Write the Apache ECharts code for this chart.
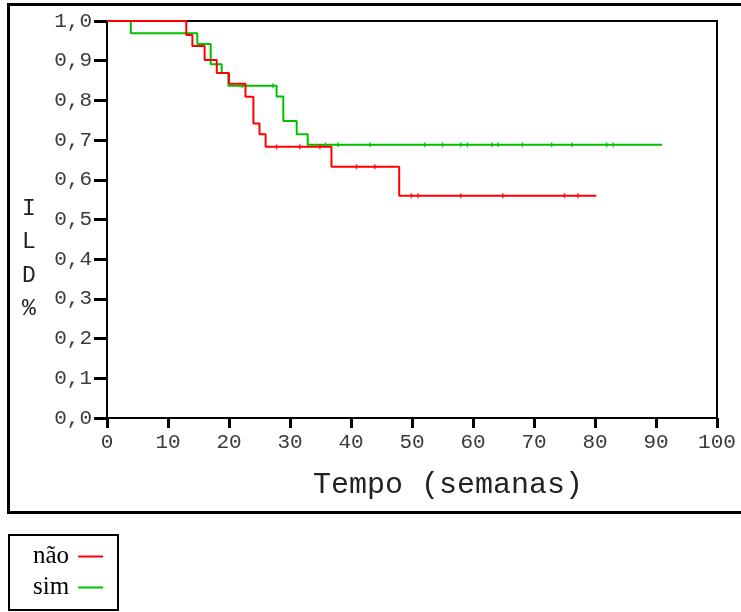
<!DOCTYPE html>
<html>
<head>
<meta charset="utf-8">
<script src="https://cdn.jsdelivr.net/npm/echarts@6/dist/echarts.min.js"></script>
<style>html,body{margin:0;padding:0;background:#fff}#c{width:741px;height:612px}</style>
</head>
<body>
<div id="c"></div>
<script>
// Kaplan-Meier style step curves (time in weeks, ILD proportion)
var naoTimes  = [0, 13, 14, 16, 18, 20, 22.7, 24, 25, 26, 36.8, 47.9, 80.2];
var naoValues = [1, 0.965, 0.937, 0.902, 0.869, 0.842, 0.809, 0.742, 0.715, 0.683, 0.633, 0.560, 0.560];
var simTimes  = [0, 3.9, 14.8, 17, 18.8, 19.9, 27.8, 28.9, 31.1, 32.9, 91];
var simValues = [1, 0.969, 0.942, 0.891, 0.869, 0.837, 0.810, 0.748, 0.715, 0.688, 0.688];
// censoring marks
var naoCensorTimes  = [27.8, 31.6, 34.9, 40.9, 43.9, 49.9, 51, 58, 64.9, 75, 77.2];
var naoCensorValues = [0.683, 0.683, 0.683, 0.633, 0.633, 0.560, 0.560, 0.560, 0.560, 0.560, 0.560];
var simCensorTimes  = [22.2, 27.2, 35.8, 37.9, 43.1, 52.1, 55, 58, 59.1, 63.1, 64.1, 68.1, 72.9, 76.2, 81.9, 83];
var simCensorValues = [0.837, 0.837, 0.688, 0.688, 0.688, 0.688, 0.688, 0.688, 0.688, 0.688, 0.688, 0.688, 0.688, 0.688, 0.688, 0.688];
var xTickLabels = ['0','10','20','30','40','50','60','70','80','90','100'];
var yTickLabels = ['0,0','0,1','0,2','0,3','0,4','0,5','0,6','0,7','0,8','0,9','1,0'];
var seriesNames = ['não', 'sim'];
var xTitle = 'Tempo (semanas)';
var yTitle = ['I', 'L', 'D', '%'];

function zip(a, b) { return a.map(function (v, i) { return [v, b[i]]; }); }

var RED = '#ff0000', GREEN = '#00c000';
var mono = 'Liberation Mono';
var chart = echarts.init(document.getElementById('c'), null, {renderer: 'canvas'});
chart.setOption({
  animation: false,
  backgroundColor: '#fff',
  grid: {left: 107, top: 21, right: 24, bottom: 194, show: true, borderColor: '#000', borderWidth: 2, containLabel: false},
  xAxis: {
    type: 'value', min: 0, max: 100, interval: 10,
    axisLine: {show: true, lineStyle: {color: '#000', width: 2}},
    axisTick: {show: true, length: 10, lineStyle: {color: '#000', width: 3}},
    axisLabel: {margin: 14, fontFamily: mono, fontSize: 21, color: '#3a3a3a',
      formatter: function (v) { return xTickLabels[Math.round(v / 10)]; }},
    splitLine: {show: false}
  },
  yAxis: {
    type: 'value', min: 0, max: 1, interval: 0.1,
    axisLine: {show: true, lineStyle: {color: '#000', width: 2}},
    axisTick: {show: true, length: 13, lineStyle: {color: '#000', width: 3}},
    axisLabel: {margin: 15, fontFamily: mono, fontSize: 21, color: '#3a3a3a',
      formatter: function (v) { return yTickLabels[Math.round(v * 10)]; }},
    splitLine: {show: false}
  },
  legend: {
    data: seriesNames, orient: 'vertical', left: 33, top: 544, align: 'right',
    itemGap: 6, itemWidth: 25, itemHeight: 2, icon: 'rect', padding: 0,
    textStyle: {fontFamily: 'Liberation Serif', fontSize: 25, color: '#000', padding: [0, 4, 0, 0]},
    selectedMode: false
  },
  series: [
    {name: seriesNames[0], type: 'line', step: 'end', data: zip(naoTimes, naoValues), symbol: 'none',
      lineStyle: {color: RED, width: 2}, itemStyle: {color: RED}, z: 3},
    {name: seriesNames[1], type: 'line', step: 'end', data: zip(simTimes, simValues), symbol: 'none',
      lineStyle: {color: GREEN, width: 2}, itemStyle: {color: GREEN}, z: 2},
    {name: 'naoCensor', type: 'scatter', data: zip(naoCensorTimes, naoCensorValues), symbol: 'rect',
      symbolSize: [1.5, 5], itemStyle: {color: RED}, z: 3},
    {name: 'simCensor', type: 'scatter', data: zip(simCensorTimes, simCensorValues), symbol: 'rect',
      symbolSize: [1.5, 5], itemStyle: {color: GREEN}, z: 2}
  ],
  graphic: [
    {type: 'rect', shape: {x: 8.5, y: 4.5, width: 745, height: 508}, style: {fill: 'none', stroke: '#000', lineWidth: 3}, z: 0},
    {type: 'rect', shape: {x: 9, y: 535, width: 109, height: 75}, style: {fill: 'none', stroke: '#000', lineWidth: 2}, z: 0},
    {type: 'text', x: 448, y: 485, style: {text: xTitle, fontFamily: mono, fontSize: 30, fill: '#222', align: 'center', verticalAlign: 'middle'}},
    {type: 'text', x: 29, y: 192, style: {text: yTitle.join('\n'), fontFamily: mono, fontSize: 23, lineHeight: 33.5, fill: '#222', align: 'center', verticalAlign: 'top'}}
  ]
});
</script>
</body>
</html>
